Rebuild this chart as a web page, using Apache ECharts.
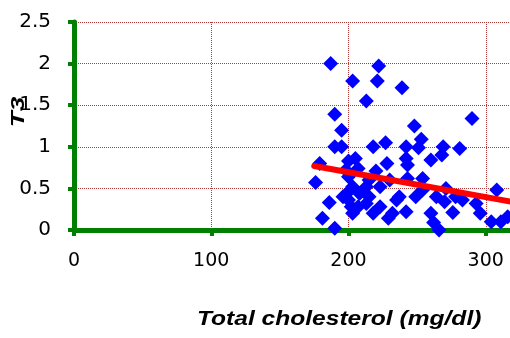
<!DOCTYPE html>
<html lang="en">
<head>
    <meta charset="UTF-8">
    <title>T3 vs total cholesterol</title>
 <style>
     html, body { margin: 0; padding: 0; background: #fff; }
     #main { width: 510px; height: 338px; }
 </style>
</head>
<body>
<div id="main"></div>
<script src="https://cdn.jsdelivr.net/npm/echarts@6/dist/echarts.min.js"></script>
<script>
    // cholesterol (mg/dl) and T3 readings
    var cholX = [187, 222, 203, 221, 239, 213, 190, 195, 248, 290,
                 190, 195, 218, 227, 242, 253, 251, 269, 281, 268,
                 260, 242, 243, 228, 205, 200, 179, 176, 186, 181,
                 190, 220, 230, 243, 254, 271, 278, 270, 276, 260,
                 262, 266, 293, 296, 308, 304, 311, 316, 249, 237,
                 242, 232, 229, 218, 223, 213, 203, 200, 203, 200,
                 208, 215, 213, 223, 200, 196, 207, 235, 254, 264,
                 198, 207, 215, 283, 202];
    var t3Y = [2.0, 1.97, 1.79, 1.79, 1.71, 1.55, 1.39, 1.20, 1.25, 1.34,
               1.0, 1.0, 1.0, 1.05, 1.0, 1.09, 0.99, 1.0, 0.98, 0.90,
               0.84, 0.86, 0.78, 0.80, 0.86, 0.83, 0.80, 0.57, 0.33, 0.14,
               0.02, 0.71, 0.60, 0.62, 0.62, 0.50, 0.40, 0.34, 0.21, 0.20,
               0.09, 0.0, 0.32, 0.20, 0.48, 0.10, 0.10, 0.16, 0.40, 0.40,
               0.22, 0.20, 0.14, 0.20, 0.28, 0.32, 0.20, 0.36, 0.52, 0.64,
               0.44, 0.40, 0.52, 0.52, 0.46, 0.40, 0.28, 0.36, 0.48, 0.40,
               0.72, 0.74, 0.60, 0.36, 0.28];
    // fitted line ends
    var fitX = [175, 330];
    var fitY = [0.77, 0.305];

    var xTicks = [0, 100, 200, 300];
    var yTicks = [0, 0.5, 1, 1.5, 2, 2.5];

    var points = cholX.map(function (x, i) { return [x, t3Y[i]]; });
    var fitLine = fitX.map(function (x, i) { return [x, fitY[i]]; });

    var green = '#008000';
    var gridColor = '#b03a3a';

    var myChart = echarts.init(document.getElementById('main'));
    var option = {
        animation: false,
        backgroundColor: '#fff',
        grid: {
            left: 74,
            top: 22,
            width: 549,
            height: 208,
            outerBoundsMode: 'none',
            containLabel: false
        },
        xAxis: {
            type: 'value',
            min: 0,
            max: 400,
            interval: 100,
            axisLine: { onZero: false, lineStyle: { color: green, width: 5 } },
            axisTick: { show: true, length: 6, lineStyle: { color: green, width: 4 } },
            axisLabel: {
                color: '#000', fontSize: 19, fontFamily: 'DejaVu Sans', margin: 22,
                formatter: function (v) { return xTicks.indexOf(v) >= 0 ? String(v) : ''; }
            },
            splitLine: { show: true, lineStyle: { color: gridColor, type: 'dotted', width: 1 } }
        },
        yAxis: {
            type: 'value',
            min: 0,
            max: 2.5,
            interval: 0.5,
            axisLine: { show: true, onZero: false, lineStyle: { color: green, width: 5 } },
            axisTick: { show: true, length: 6, lineStyle: { color: green, width: 4 } },
            axisLabel: {
                color: '#000', fontSize: 20, fontFamily: 'DejaVu Sans', margin: 23,
                formatter: function (v) { return yTicks.indexOf(v) >= 0 ? String(v) : ''; }
            },
            splitLine: { show: true, lineStyle: { color: gridColor, type: 'dotted', width: 1 } }
        },
        graphic: [
            {
                type: 'text',
                x: 197,
                y: 309,
                scaleX: 1.17,
                style: {
                    text: 'Total cholesterol (mg/dl)',
                    fill: '#000',
                    font: 'italic bold 21px "Liberation Sans"'
                }
            },
            {
                type: 'text',
                x: 19,
                y: 112,
                rotation: Math.PI / 2,
                scaleX: 1.45,
                style: {
                    text: 'T3',
                    fill: '#000',
                    font: 'italic bold 18px "Liberation Sans"',
                    textAlign: 'center',
                    textVerticalAlign: 'middle'
                }
            }
        ],
        series: [
            {
                type: 'scatter',
                data: points,
                symbol: 'diamond',
                symbolSize: [15, 15],
                clip: false,
                itemStyle: { color: '#0000ff', opacity: 1 },
                z: 3
            },
            {
                type: 'line',
                data: fitLine,
                showSymbol: false,
                symbol: 'none',
                lineStyle: { color: '#ff0000', width: 6, cap: 'round' },
                z: 4
            }
        ]
    };
    myChart.setOption(option);
</script>
</body>
</html>
